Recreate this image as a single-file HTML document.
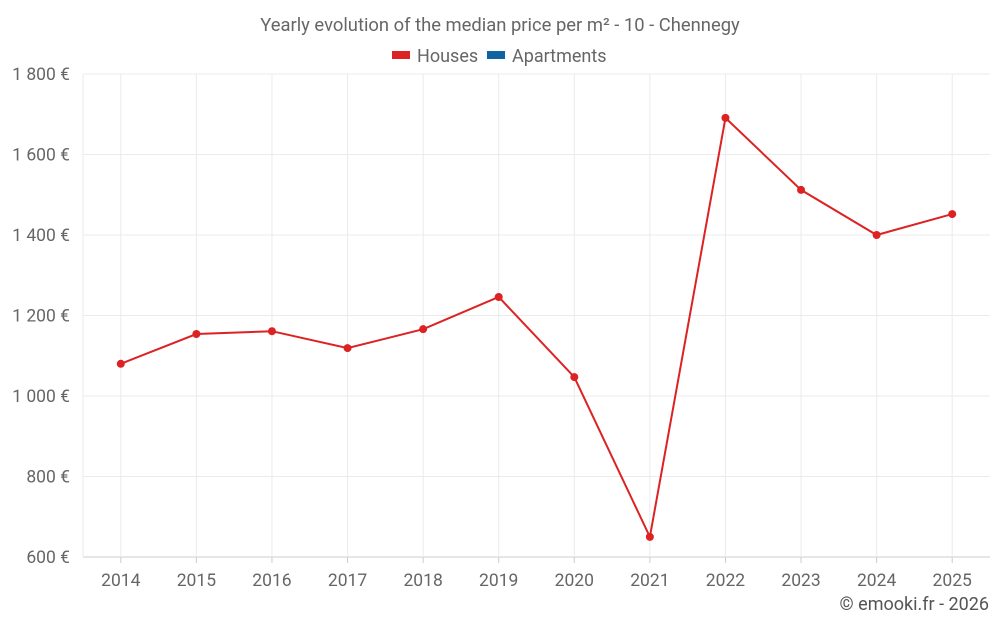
<!DOCTYPE html>
<html><head><meta charset="utf-8"><style>
body{margin:0;background:#fff;font-family:"Liberation Sans",sans-serif}
</style></head><body>
<svg id="chart" width="1000" height="625" xmlns="http://www.w3.org/2000/svg" font-family="Roboto, 'Liberation Sans', sans-serif">
<text x="500" y="31" text-anchor="middle" font-size="18.4" fill="#666">Yearly evolution of the median price per m² - 10 - Chennegy</text>
<g>
<g><rect x="392" y="51" width="18" height="8" fill="#dc2222"/><text x="417" y="62" font-size="18" fill="#666">Houses</text></g>
<g><rect x="487" y="51" width="18" height="8" fill="#0d64a0"/><text x="512" y="62" font-size="18" fill="#666">Apartments</text></g>
</g>
<g id="grid"></g>
<g id="yaxis"></g>
<g id="xaxis"></g>
<g id="series"></g>
<text x="989" y="610" text-anchor="end" font-size="18" fill="#555">© emooki.fr - 2026</text>
</svg>
<script>
const categories=["2014","2015","2016","2017","2018","2019","2020","2021","2022","2023","2024","2025"];
const houses=[1080,1154,1161,1119,1166,1246,1047,650,1691,1512,1400,1452];
const yTicks=[600,800,1000,1200,1400,1600,1800];
const yTickLabels=["600 €","800 €","1 000 €","1 200 €","1 400 €","1 600 €","1 800 €"];
const L=83,R=990,T=74,B=557,yMin=600,yMax=1800;
const bw=(R-L)/categories.length;
function x(i){return L+bw*(i+0.5);}
function y(v){return B-(v-yMin)/(yMax-yMin)*(B-T);}
const NS="http://www.w3.org/2000/svg";
function mk(t,a,p){const e=document.createElementNS(NS,t);for(const k in a)e.setAttribute(k,a[k]);p.appendChild(e);return e;}
const grid=document.getElementById('grid'),ya=document.getElementById('yaxis'),xa=document.getElementById('xaxis'),s=document.getElementById('series');
yTicks.forEach((v,i)=>{
 const l=mk('line',{x1:L,x2:R,y1:y(v),y2:y(v),stroke:i===0?'#ccc':'#ebebeb'},grid);
 
 
 const t=mk('text',{x:70,y:y(v)+6,'text-anchor':'end','font-size':17.5,fill:'#666'},ya);
 t.textContent=yTickLabels[i];
 
 
});
mk('line',{x1:L,x2:L,y1:T,y2:B,stroke:'#ebebeb'},grid);
categories.forEach((c,i)=>{
 const l=mk('line',{x1:x(i),x2:x(i),y1:T,y2:B,stroke:'#ebebeb'},grid);
 
 
 const tk=mk('line',{x1:x(i),x2:x(i),y1:B,y2:B+6,stroke:'#ccc'},xa);
 
 
 const t=mk('text',{x:x(i),y:586,'text-anchor':'middle','font-size':17.5,fill:'#666'},xa);
 t.textContent=c;
 
 
});
const p=mk('polyline',{points:houses.map((v,i)=>x(i)+','+y(v)).join(' '),fill:'none',stroke:'#dc2222','stroke-width':2},s);


houses.forEach((v,i)=>{
 const c=mk('circle',{cx:x(i),cy:y(v),r:4,fill:'#dc2222'},s);
 
 
});
</script>
</body></html>
